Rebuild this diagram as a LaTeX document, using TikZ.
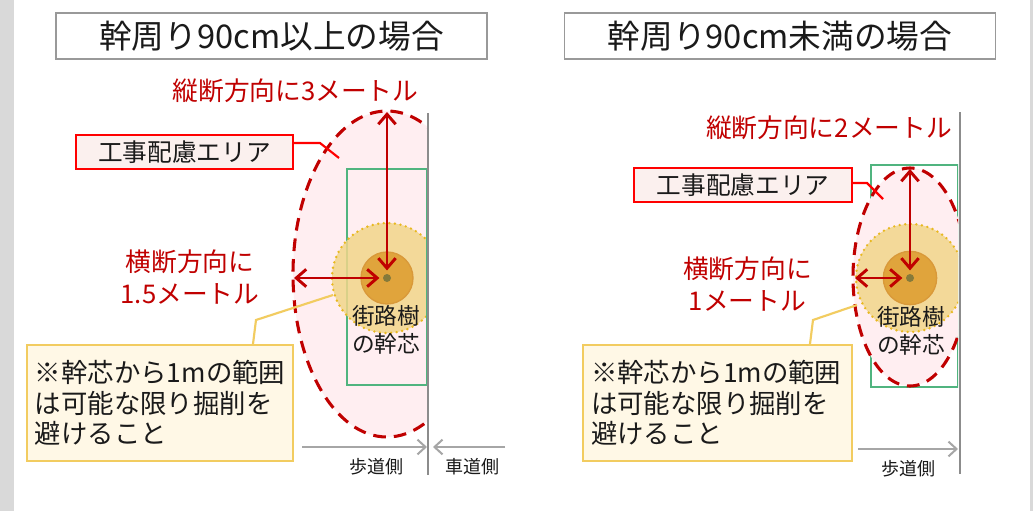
\documentclass[tikz,border=0pt]{standalone}
\usepackage{fontspec}
\setmainfont{Noto Sans CJK JP}
\usetikzlibrary{arrows.meta}
\definecolor{darkred}{HTML}{C00000}
\definecolor{boxred}{HTML}{FF0000}
\definecolor{areafill}{HTML}{FBF0EE}
\definecolor{pinkfill}{HTML}{FFEEF1}
\definecolor{rectgreen}{HTML}{50B47F}
\definecolor{canopy}{HTML}{F2D68A}
\definecolor{canopyline}{HTML}{E8B820}
\definecolor{trunkfill}{HTML}{E0A43C}
\definecolor{trunkline}{HTML}{D9993A}
\definecolor{dotcol}{HTML}{857A3A}
\definecolor{noteborder}{HTML}{F2CC60}
\definecolor{notefill}{HTML}{FFF8E6}
\definecolor{roadgray}{HTML}{8C8C8C}
\definecolor{arrowgray}{HTML}{A6A6A6}
\definecolor{titlegray}{HTML}{999999}
\definecolor{stripgray}{HTML}{D9D9D9}
\definecolor{txt}{HTML}{1A1A1A}
\tikzset{
  titlebox/.style={draw=titlegray, line width=1.2pt, fill=white, minimum width=323.5pt,
    minimum height=34.5pt, inner sep=0pt, text=txt, font=\fontsize{24.5}{28}\selectfont},
  areabox/.style={draw=boxred, line width=1.6pt, fill=areafill, minimum width=163pt,
    minimum height=25.5pt, inner sep=0pt, text=txt, font=\fontsize{18.5}{22}\selectfont},
  redlabel/.style={text=darkred, align=center, inner sep=0pt, font=\fontsize{19.3}{24}\selectfont},
  notebox/.style={draw=noteborder, line width=1.6pt, fill=notefill, minimum height=87pt,
    inner xsep=6pt, inner ysep=0pt, align=left, text=txt, font=\fontsize{19.8}{23}\selectfont},
  treelabel/.style={align=center, inner sep=0pt, text=txt, font=\fontsize{17}{20.5}\selectfont},
  sidelabel/.style={inner sep=0pt, text=txt, font=\fontsize{13.5}{16}\selectfont},
  zone/.style={fill=pinkfill},
  zoneline/.style={draw=darkred, line width=2.3pt, dash pattern=on 9.5pt off 6pt},
  greenrect/.style={draw=rectgreen, line width=1.9pt},
  canopyc/.style={circle, fill=canopy, fill opacity=0.85, draw=canopyline, draw opacity=1,
    line width=2pt, dash pattern=on 0pt off 4.2pt, line cap=round, inner sep=0pt},
  trunkc/.style={circle, fill=trunkfill, draw=trunkline, line width=1pt, inner sep=0pt},
  coredot/.style={circle, fill=dotcol, inner sep=0pt, minimum size=6pt},
  dimarrow/.style={draw=darkred, line width=2.2pt, {Straight Barb[length=7.5pt,width=13pt]}-{Straight Barb[length=7.5pt,width=13pt]}},
  redleader/.style={draw=boxred, line width=1.6pt},
  noteleader/.style={draw=noteborder, line width=1.6pt},
  road/.style={draw=roadgray, line width=2pt},
  sidearrow/.style={draw=arrowgray, line width=1.5pt, -{Straight Barb[length=6pt,width=11pt]}}
}
\begin{document}
\begin{tikzpicture}[x=0.75pt,y=-0.75pt]
\useasboundingbox (0,0) rectangle (1033,511);
\fill[white] (0,0) rectangle (1033,511);
\fill[stripgray] (0,0) rectangle (14,511);
\fill[stripgray] (1030,0) rectangle (1033,511);

% ================= LEFT PANEL =================
\node[titlebox] (t1) at (271.5,36) {幹周り90cm以上の場合};

\begin{scope}
  \clip (0,0) rectangle (427,511);
  \fill[zone] (387,274) ellipse [x radius=94, y radius=163];
  \draw[greenrect] (347,169) rectangle (427,385);
  \node[canopyc, minimum size=82.5pt] (cn1) at (387,278) {};
  \node[trunkc, minimum size=39pt] (tr1) at (387,278) {};
  \node[coredot] (c1) at (387,278) {};
  \draw[zoneline] (387,274) ellipse [x radius=94, y radius=163];
\end{scope}
\draw[greenrect] (427,169) -- (427,385);
\draw[road] (428,113) -- (428,475);

\coordinate (e1t) at (387,112);
\coordinate (e1l) at (294,278);
\draw[dimarrow, shorten >=2.5pt] (e1t) -- (c1.north);
\draw[dimarrow, shorten >=2.5pt] (e1l) -- (c1.west);

\node[redlabel] (v1) at (295.5,91) {縦断方向に3メートル};
\node[redlabel] (h1) at (190,277) {横断方向に\\1.5メートル};
\node[treelabel] (tl1) at (386,330) {街路樹\\の幹芯};

\node[areabox] (a1) at (184.5,152) {工事配慮エリア};
\coordinate (a1k) at (320,143);
\coordinate (a1e) at (339,158);
\draw[redleader] (a1.east |- a1k) -- (a1k) -- (a1e);

\node[notebox, minimum width=199.5pt, text width=187.5pt] (n1) at (160,403)
  {※幹芯から1mの範囲\\は可能な限り掘削を\\避けること};
\coordinate (n1k) at (256,320);
\coordinate (n1e) at (333,295);
\draw[noteleader] (n1.north -| 253,0) -- (n1k) -- (n1e);

\coordinate (s1a) at (302,447);
\coordinate (s1b) at (427,447);
\coordinate (s2a) at (505,447);
\coordinate (s2b) at (433,447);
\draw[sidearrow] (s1a) -- (s1b);
\draw[sidearrow] (s2a) -- (s2b);
\node[sidelabel] (w1) at (376,467) {歩道側};
\node[sidelabel] (r1) at (472,467) {車道側};

% ================= RIGHT PANEL =================
\node[titlebox] (t2) at (780,36) {幹周り90cm未満の場合};

\begin{scope}
  \clip (0,0) rectangle (958,511);
  \draw[greenrect] (871,165) rectangle (958,387);
  \fill[zone] (910,277) ellipse [x radius=57, y radius=109];
  \node[canopyc, minimum size=81pt] (cn2) at (910,278) {};
  \node[trunkc, minimum size=40pt] (tr2) at (910,278) {};
  \node[coredot] (c2) at (910,278) {};
  \draw[zoneline] (910,277) ellipse [x radius=57, y radius=109];
\end{scope}
\draw[road] (960,112) -- (960,474);

\coordinate (e2t) at (910,169);
\coordinate (e2l) at (855,278);
\draw[dimarrow, shorten >=2.5pt] (e2t) -- (c2.north);
\draw[dimarrow, shorten >=2.5pt] (e2l) -- (c2.west);

\node[redlabel] (v2) at (829,128) {縦断方向に2メートル};
\node[redlabel] (h2) at (747.5,284) {横断方向に\\1メートル};
\node[treelabel] (tl2) at (911,331) {街路樹\\の幹芯};

\node[areabox] (a2) at (743,185) {工事配慮エリア};
\coordinate (a2k) at (867,183);
\coordinate (a2e) at (883,199);
\draw[redleader] (a2.east |- a2k) -- (a2k) -- (a2e);

\node[notebox, minimum width=201.75pt, text width=189.75pt] (n2) at (717.5,403)
  {※幹芯から1mの範囲\\は可能な限り掘削を\\避けること};
\coordinate (n2k) at (813,320);
\coordinate (n2e) at (857,305);
\draw[noteleader] (n2.north -| 810,0) -- (n2k) -- (n2e);

\coordinate (s3a) at (858,449);
\coordinate (s3b) at (958,449);
\draw[sidearrow] (s3a) -- (s3b);
\node[sidelabel] (w2) at (908,469) {歩道側};
\end{tikzpicture}
\end{document}
